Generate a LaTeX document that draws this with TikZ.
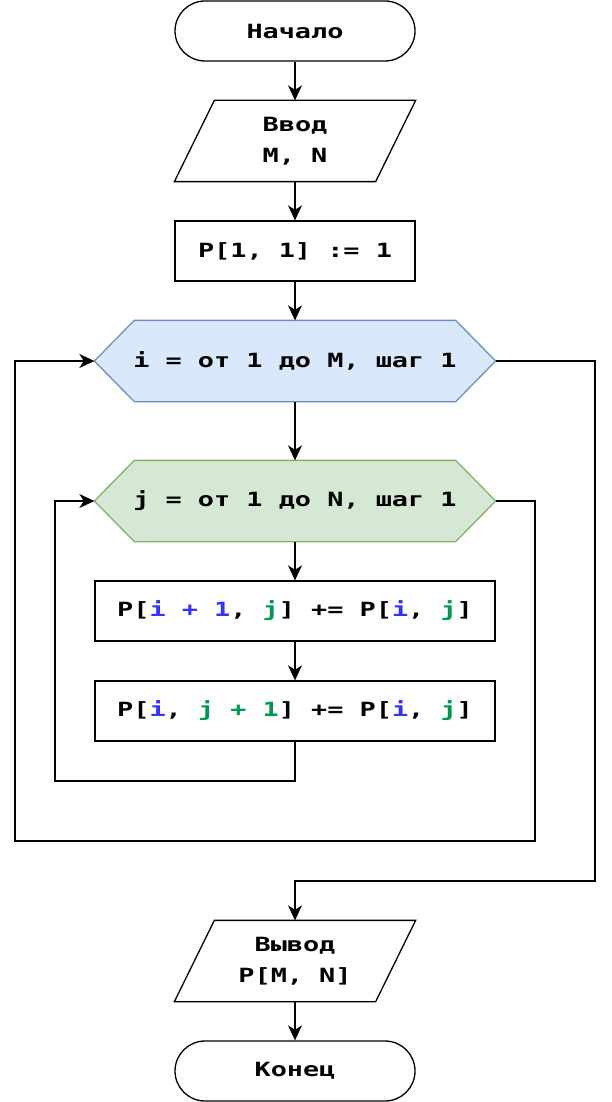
\documentclass[tikz,border=0pt]{standalone}
\usepackage{fontspec}
\newfontfamily\codefont{DejaVu Sans Mono}[FakeStretch=1.37]
\usetikzlibrary{arrows.meta,backgrounds,calc}
\definecolor{hiFill}{HTML}{DAE8FC}
\definecolor{hiLine}{HTML}{6C8EBF}
\definecolor{hjFill}{HTML}{D5E8D4}
\definecolor{hjLine}{HTML}{82B366}
\definecolor{vi}{HTML}{3333FF}
\definecolor{vj}{HTML}{00994D}
\tikzset{
  base/.style={font=\codefont\bfseries\fontsize{19.6pt}{30.7pt}\selectfont, align=center, inner sep=0pt, line width=1.3pt},
  term/.style={base, draw, rectangle, rounded corners=30pt, minimum width=240pt, minimum height=60pt},
  proc/.style={base, draw, rectangle, minimum width=240pt, minimum height=60pt},
  wproc/.style={base, draw, rectangle, minimum width=400pt, minimum height=60pt},
  io/.style={base, minimum width=240pt, minimum height=80pt},
  hexa/.style={base, minimum width=400pt, minimum height=80pt},
  arr/.style={line width=1.3pt, -{Stealth[length=15pt,width=14pt,inset=4.5pt]}},
  ln/.style={line width=1.3pt},
}
\begin{document}
\begin{tikzpicture}[x=1pt,y=-1pt]
\useasboundingbox (0,0) rectangle (612,1102);
\node[term] (start) at (295,31) {Начало};
\node[io] (in) at (295,141) {Ввод\\M, N};
\node[proc] (p1) at (295,251) {P[1, 1] := 1};
\node[hexa] (hi) at (295,361) {i = от 1 до M, шаг 1};
\node[hexa] (hj) at (295,501) {j = от 1 до N, шаг 1};
\node[wproc] (b1) at (295,611) {P[\textcolor{vi}{i + 1}, \textcolor{vj}{j}] += P[\textcolor{vi}{i}, \textcolor{vj}{j}]};
\node[wproc] (b2) at (295,711) {P[\textcolor{vi}{i}, \textcolor{vj}{j + 1}] += P[\textcolor{vi}{i}, \textcolor{vj}{j}]};
\node[io] (out) at (295,961) {Вывод\\P[M, N]};
\node[term] (end) at (295,1071) {Конец};
\begin{scope}[on background layer]
  \draw[ln] ($(in.north west)+(40,0)$) -- (in.north east) -- ($(in.south east)+(-40,0)$) -- (in.south west) -- cycle;
  \draw[ln] ($(out.north west)+(40,0)$) -- (out.north east) -- ($(out.south east)+(-40,0)$) -- (out.south west) -- cycle;
  \draw[ln, draw=hiLine, fill=hiFill] (hi.west) -- ($(hi.north west)+(40,0)$) -- ($(hi.north east)+(-40,0)$) -- (hi.east) -- ($(hi.south east)+(-40,0)$) -- ($(hi.south west)+(40,0)$) -- cycle;
  \draw[ln, draw=hjLine, fill=hjFill] (hj.west) -- ($(hj.north west)+(40,0)$) -- ($(hj.north east)+(-40,0)$) -- (hj.east) -- ($(hj.south east)+(-40,0)$) -- ($(hj.south west)+(40,0)$) -- cycle;
\end{scope}
\coordinate (l1) at (55,781);
\coordinate (r1) at (535,841);
\coordinate (l2) at (15,361);
\coordinate (r2) at (595,881);
\draw[arr] (start) -- (in);
\draw[arr] (in) -- (p1);
\draw[arr] (p1) -- (hi);
\draw[arr] (hi) -- (hj);
\draw[arr] (hj) -- (b1);
\draw[arr] (b1) -- (b2);
\draw[arr] (b2.south) |- (l1) |- (hj.west);
\draw[arr] (hj.east) -| (r1) -| (l2) -- (hi.west);
\draw[arr] (hi.east) -| (r2) -| (out.north);
\draw[arr] (out) -- (end);
\end{tikzpicture}
\end{document}
